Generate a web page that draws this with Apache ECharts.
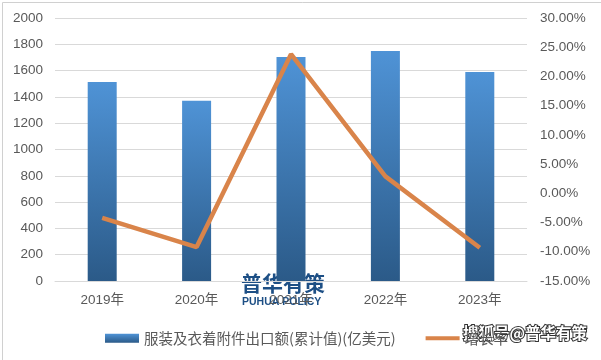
<!DOCTYPE html>
<html><head><meta charset="utf-8">
<script src="https://cdn.jsdelivr.net/npm/echarts@6/dist/echarts.min.js"></script>
<style>html,body{margin:0;padding:0;background:#fff}#c{width:601px;height:360px}</style>
</head><body><div id="c"></div>
<script>
const categories = ['2019年','2020年','2021年','2022年','2023年'];
const exportValues = [1513, 1370, 1703, 1750, 1590];
const growthRates = [-4.2, -9.2, 23.8, 2.9, -9.3];
const barName = '服装及衣着附件出口额(累计值)(亿美元)';
const lineName = '增长率';

const chart = echarts.init(document.getElementById('c'));
const font = 'Arial, "Liberation Sans", "Noto Sans CJK SC", sans-serif';
chart.setOption({
  animation: false,
  backgroundColor: '#fff',
  grid: {left: 55, right: 74, top: 18, bottom: 79},
  legend: {
    top: 326, left: 100, itemGap: 30, itemWidth: 34, itemHeight: 9,
    textStyle: {color: '#595959', fontSize: 14.5, fontFamily: '"Noto Sans CJK SC", sans-serif'},
    data: [
      {name: barName, icon: 'rect'},
      {name: lineName, icon: 'path://M0,3 L35,3 L35,7 L0,7 Z'}
    ]
  },
  xAxis: {
    type: 'category', data: categories,
    axisLine: {lineStyle: {color: '#d9d9d9'}},
    axisTick: {show: false},
    axisLabel: {color: '#595959', fontSize: 13.5, fontFamily: font, margin: 13}
  },
  yAxis: [
    {type: 'value', min: 0, max: 2000, interval: 200,
     axisLine: {show: false}, axisTick: {show: false},
     splitLine: {lineStyle: {color: '#d9d9d9'}},
     axisLabel: {color: '#595959', fontSize: 13.5, fontFamily: font, margin: 12,
       formatter: v => String(v)}},
    {type: 'value', min: -15, max: 30, interval: 5,
     axisLine: {show: false}, axisTick: {show: false}, splitLine: {show: false},
     axisLabel: {color: '#595959', fontSize: 13.5, fontFamily: font, margin: 13,
       formatter: v => v.toFixed(2) + '%'}}
  ],
  series: [
    {name: barName, type: 'bar', data: exportValues, barWidth: 29,
     itemStyle: {color: new echarts.graphic.LinearGradient(0,0,0,1,[
       {offset:0,color:'#4f93d6'},{offset:1,color:'#2b5a88'}])}},
    {name: lineName, type: 'line', yAxisIndex: 1, data: growthRates,
     symbol: 'none', lineStyle: {color: '#d9844a', width: 4.5},
     itemStyle: {color: '#d9844a'}}
  ],
  graphic: [
    {type: 'rect', left: 0, top: 0, shape: {width: 600, height: 358},
     style: {fill: 'none', stroke: '#d0d0d0', lineWidth: 1}},
    {type: 'text', left: 241, top: 273, style: {text: '普华有策', fill: '#1d4f85',
      font: 'bold 21px "Noto Sans CJK SC", sans-serif'}},
    {type: 'text', left: 242, top: 297, style: {text: 'PUHUA POLICY', fill: '#1d4f85',
      font: 'bold 10.5px "Liberation Sans", Arial, sans-serif'}},
    {type: 'text', left: 462, top: 324, style: {text: '搜狐号@普华有策', fill: '#fff',
      stroke: '#333', lineWidth: 2,
      font: 'bold 15.5px "Noto Sans CJK SC", sans-serif'}}
  ]
});
</script></body></html>
